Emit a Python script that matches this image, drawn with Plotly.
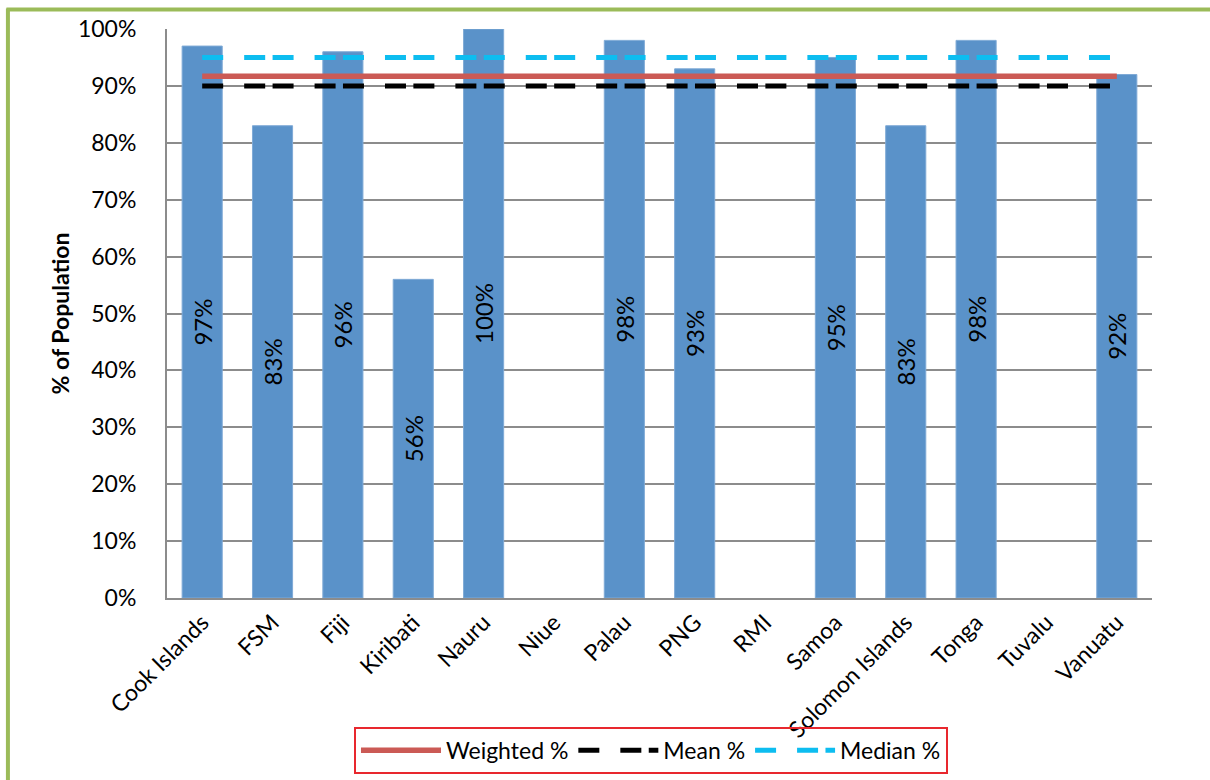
import plotly.graph_objects as go

# Share of population per country (None = no data)
countries = ["Cook Islands", "FSM", "Fiji", "Kiribati", "Nauru", "Niue", "Palau",
             "PNG", "RMI", "Samoa", "Solomon Islands", "Tonga", "Tuvalu", "Vanuatu"]
pct = [0.97, 0.83, 0.96, 0.56, 1.00, None, 0.98, 0.93, None, 0.95, 0.83, 0.98, None, 0.92]

# Summary reference levels
weighted_pct = 0.917
mean_pct = 0.90
median_pct = 0.95

y_ticks = [0, 0.1, 0.2, 0.3, 0.4, 0.5, 0.6, 0.7, 0.8, 0.9, 1.0]

FONT = "Lato"
bar_labels = ["" if v is None else f"{round(v * 100)}%" for v in pct]

fig = go.Figure()

fig.add_trace(go.Bar(
    x=countries, y=pct, text=bar_labels, textposition="inside",
    insidetextanchor="middle", textangle=-90, constraintext="none",
    textfont=dict(family=FONT, size=24, color="black"),
    marker=dict(color="#5A92C9", line=dict(color="#7FAAD6", width=1)),
    showlegend=False, hoverinfo="x+y",
))

# one dash cycle per category step so the pattern restarts at every point
dash_cycle = "21px,21px,21px,7.4px"

fig.add_trace(go.Scatter(
    x=countries, y=[weighted_pct] * len(countries), mode="lines",
    name="Weighted %", line=dict(color="#CB5A55", width=5.5),
))
fig.add_trace(go.Scatter(
    x=countries, y=[mean_pct] * len(countries), mode="lines",
    name="Mean %", line=dict(color="black", width=5, dash=dash_cycle),
))
fig.add_trace(go.Scatter(
    x=countries, y=[median_pct] * len(countries), mode="lines",
    name="Median %", line=dict(color="#0DBDF0", width=5, dash=dash_cycle),
))

fig.update_layout(
    width=1210, height=780,
    margin=dict(l=167, r=58, t=29, b=182, autoexpand=False),
    paper_bgcolor="white", plot_bgcolor="white",
    font=dict(family=FONT, size=23, color="black"),
    bargap=0.43,
    legend=dict(
        orientation="h", xref="container", x=0.538, xanchor="center",
        yref="container", y=0.008, yanchor="bottom",
        bgcolor="rgba(0,0,0,0)",
        bordercolor="#E8282E", borderwidth=2, font=dict(family=FONT, size=23),
        itemwidth=80, tracegroupgap=0,
    ),
    xaxis=dict(
        tickangle=-45, showgrid=False, showline=True, linecolor="#8C8C8C",
        linewidth=2, ticks="", tickfont=dict(family=FONT, size=23),
        automargin=False,
    ),
    yaxis=dict(
        range=[0, 1], tickvals=y_ticks, tickformat=".0%",
        showgrid=True, gridcolor="#8C8C8C", gridwidth=1.5,
        showline=True, linecolor="#8C8C8C", linewidth=2,
        ticks="", ticklabelstandoff=24, zeroline=False, automargin=False,
        tickfont=dict(family=FONT, size=23),
        title=dict(text="<b>% of Population</b>", font=dict(family=FONT, size=23),
                   standoff=2),
    ),
    shapes=[
        dict(type="line", xref="paper", yref="paper", x0=-0.163, x1=1.06,
             y0=1.0343, y1=1.0343, line=dict(color="#9BBB59", width=4)),
        dict(type="line", xref="paper", yref="paper", x0=-0.1615, x1=-0.1615,
             y0=1.036, y1=-0.32, line=dict(color="#9BBB59", width=4)),
    ],
)

fig.write_html("out.html")
